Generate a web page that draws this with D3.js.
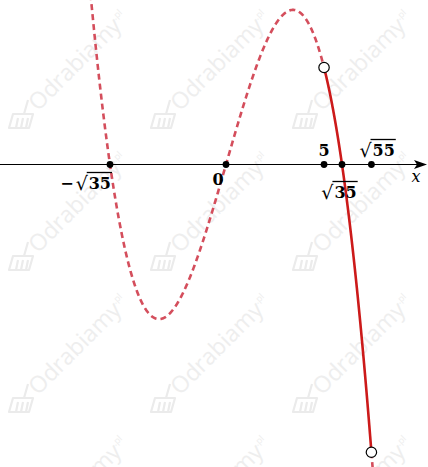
<!DOCTYPE html>
<html>
<head>
<meta charset="utf-8">
<script src="https://cdn.jsdelivr.net/npm/d3@7"></script>
<style>
  html, body { margin: 0; padding: 0; background: #fff; }
  svg { display: block; }
</style>
</head>
<body>
<svg id="chart" width="428" height="467"></svg>
<script>
// ---- data ----
// polynomial f(x) = c0 + c1 x + c2 x^2 + c3 x^3  (roots -√35, 0, √35)
const coefficients = [0, 35, 0, -1];
// solid piece of the graph (open ends)
const solidDomain = [5, Math.sqrt(55)];
// marked points on the x axis
const tickValues = [-Math.sqrt(35), 0, 5, Math.sqrt(35), Math.sqrt(55)];
const tickRadicands = ["35", null, null, "35", "55"];
const tickPrefixes = ["−", "", "", "", ""];
const tickPlain = [null, "0", "5", null, null];
const tickSide = ["below", "below", "above", "below", "above"];

const W = 428, H = 467;
const svg = d3.select("#chart");

const x = d3.scaleLinear().domain([-Math.sqrt(35), Math.sqrt(35)]).range([110, 342]);
const y = d3.scaleLinear().domain([0, 50]).range([164.5, 67.5]);

const f = t => coefficients.reduce((s, c, i) => s + c * Math.pow(t, i), 0);

// ---- watermark ----
const wm = svg.append("g").attr("pointer-events", "none");
const wmCols = [22, 164, 306], wmRows = [116, 258, 400, 542];
wmRows.forEach(ry => wmCols.forEach(cx => {
  const g = wm.append("g").attr("transform", `translate(${cx},${ry})`);
  g.append("path")
    .attr("d", "M-13,12 L-9,-2 L11,-2 L7,12 Z M-6,12 L-4,2 M-1,12 L1,2 M4,12 L6,2 M2,-2 L6,-16")
    .attr("fill", "none").attr("stroke", "#ebebeb").attr("stroke-width", 2.2)
    .attr("stroke-linejoin", "round");
  const t = g.append("text")
    .attr("transform", "translate(16,-4) rotate(-45)")
    .attr("font-family", "'Open Sans', sans-serif")
    .attr("font-size", 23)
    .attr("fill", "#eeeeee");
  t.append("tspan").text("Odrabiamy");
  t.append("tspan").attr("font-size", 9).attr("dy", -10).text(".pl");
}));

// ---- axis ----
const axisY = y(0);
svg.append("line")
  .attr("x1", 0).attr("x2", W - 8)
  .attr("y1", axisY).attr("y2", axisY)
  .attr("stroke", "#000").attr("stroke-width", 1);
svg.append("path")
  .attr("d", `M${W - 1},${axisY} L${W - 14},${axisY - 4.5} L${W - 11},${axisY} L${W - 14},${axisY + 4.5} Z`)
  .attr("fill", "#000");
svg.append("text")
  .attr("x", 416).attr("y", 182)
  .attr("text-anchor", "middle")
  .attr("font-family", "'DejaVu Serif', serif")
  .attr("font-style", "italic")
  .attr("font-size", 16)
  .text("x");

// ---- curve ----
const line = d3.line().x(d => x(d)).y(d => y(f(d))).curve(d3.curveLinear);
const xmin = x.invert(0), xmax = x.invert(W);
const samplesLeft = d3.range(xmin, solidDomain[0], 0.01).concat([solidDomain[0]]);
const samplesSolid = d3.range(solidDomain[0], solidDomain[1], 0.005).concat([solidDomain[1]]);
const samplesRight = d3.range(solidDomain[1], xmax, 0.01);

svg.append("path").datum(samplesLeft).attr("d", line)
  .attr("fill", "none").attr("stroke", "#d44e5c").attr("stroke-width", 2.6)
  .attr("stroke-dasharray", "6,4");
svg.append("path").datum(samplesRight).attr("d", line)
  .attr("fill", "none").attr("stroke", "#d44e5c").attr("stroke-width", 2.6)
  .attr("stroke-dasharray", "6,4");
svg.append("path").datum(samplesSolid).attr("d", line)
  .attr("fill", "none").attr("stroke", "#cc1a1a").attr("stroke-width", 2.6);

// ---- tick dots ----
svg.selectAll("circle.tick").data(tickValues).join("circle")
  .attr("class", "tick")
  .attr("cx", d => x(d)).attr("cy", axisY).attr("r", 3.4)
  .attr("fill", "#000");

// open circles at ends of solid piece
svg.selectAll("circle.open").data(solidDomain).join("circle")
  .attr("class", "open")
  .attr("cx", d => x(d)).attr("cy", d => y(f(d))).attr("r", 5.2)
  .attr("fill", "#fff").attr("stroke", "#000").attr("stroke-width", 1.2);

// ---- tick labels ----
const fontFam = "'DejaVu Serif', serif";
const fs = 16;
tickValues.forEach((v, i) => {
  const px = x(v);
  const base = tickSide[i] === "above" ? 156 : (tickRadicands[i] && tickPrefixes[i] === "" ? 198 : 189);
  if (tickPlain[i] !== null) {
    const dx = i === 1 ? -8 : 0;
    svg.append("text")
      .attr("x", px + dx).attr("y", base - (tickSide[i] === "below" ? 4 : 0))
      .attr("text-anchor", "middle")
      .attr("font-family", fontFam).attr("font-weight", "bold").attr("font-size", fs)
      .text(tickPlain[i]);
    return;
  }
  const g = svg.append("g");
  const pre = g.append("text")
    .attr("font-family", fontFam).attr("font-weight", "bold").attr("font-size", fs)
    .attr("y", base).text(tickPrefixes[i]);
  const rad = g.append("text")
    .attr("font-family", "'DejaVu Sans', sans-serif").attr("font-size", fs + 3)
    .attr("y", base + 1).text("√");
  const num = g.append("text")
    .attr("font-family", fontFam).attr("font-weight", "bold").attr("font-size", fs)
    .attr("y", base).text(tickRadicands[i]);
  const wPre = pre.node().getComputedTextLength() + (tickPrefixes[i] ? 2 : 0);
  const wRad = rad.node().getComputedTextLength();
  const wNum = num.node().getComputedTextLength();
  const total = wPre + wRad + wNum + 1;
  let x0;
  if (i === 0) x0 = px - total + 1;
  else if (i === 3) x0 = px - total / 2 - 3;
  else x0 = px - 12;
  pre.attr("x", x0);
  rad.attr("x", x0 + wPre);
  num.attr("x", x0 + wPre + wRad + 1);
  g.append("line")
    .attr("x1", x0 + wPre + wRad - 1).attr("x2", x0 + wPre + wRad + 1 + wNum + 1)
    .attr("y1", base - 16.5).attr("y2", base - 16.5)
    .attr("stroke", "#000").attr("stroke-width", 1.3);
});
</script>
</body>
</html>
